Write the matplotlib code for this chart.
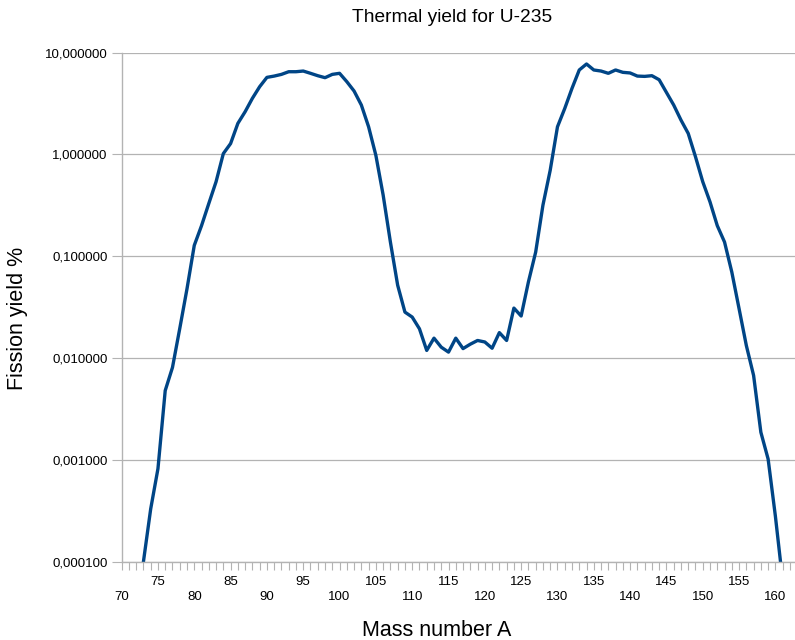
import numpy as np
import matplotlib
matplotlib.use('Agg')
import matplotlib.pyplot as plt
from matplotlib.ticker import FixedLocator, FuncFormatter

plt.rcParams['font.family'] = ['Liberation Sans', 'DejaVu Sans']

# mass number A and thermal fission yield (%)
mass = list(range(73, 162))
yield_pct = [
    1.0e-4, 3.3e-4, 8.2e-4, 4.8e-3, 8.1e-3, 0.0195, 0.048, 0.128, 0.20, 0.33,   # 73-82
    0.54, 1.02, 1.28, 2.02, 2.63, 3.56, 4.63, 5.72, 5.89, 6.12,                # 83-92
    6.50, 6.50, 6.60, 6.27, 5.94, 5.68, 6.12, 6.27, 5.19, 4.20,                # 93-102
    3.06, 1.87, 0.98, 0.40, 0.138, 0.052, 0.0283, 0.0253, 0.0194, 0.0119,      # 103-112
    0.0157, 0.0128, 0.01145, 0.0157, 0.0124, 0.0137, 0.0149, 0.0144, 0.0125, 0.0178,  # 113-122
    0.0149, 0.031, 0.0259, 0.056, 0.110, 0.318, 0.70, 1.87, 2.83, 4.46,        # 123-132
    6.76, 7.74, 6.76, 6.60, 6.27, 6.76, 6.41, 6.32, 5.89, 5.85,                # 133-142
    5.94, 5.42, 4.07, 3.06, 2.18, 1.61, 0.95, 0.54, 0.342, 0.20,               # 143-152
    0.138, 0.070, 0.0306, 0.0133, 0.00676, 0.00187, 0.00102, 2.8e-4, 6.5e-5,   # 153-161
]

y_ticks = [1e-4, 1e-3, 1e-2, 1e-1, 1, 10]

fig = plt.figure(figsize=(7.95, 6.4), dpi=100)
ax = fig.add_axes([0.153, 0.1223, 0.847, 0.7954])

ax.plot(mass, yield_pct, color='#004586', linewidth=2.4, solid_joinstyle='round')

ax.set_yscale('log')
ax.set_ylim(1e-4, 10)
ax.set_xlim(70, 162.7)

# y axis: decade gridlines, comma decimal labels
ax.yaxis.set_major_locator(FixedLocator(y_ticks))
ax.yaxis.set_minor_locator(FixedLocator([]))
ax.yaxis.set_major_formatter(FuncFormatter(lambda v, p: ('%.6f' % v).replace('.', ',')))
ax.grid(axis='y', color='#b3b3b3', linewidth=0.9)
ax.set_axisbelow(True)

# x axis: a tick on every integer, labels every 5 in two staggered rows
xt = list(range(70, 163))
def xlab(a):
    if a % 10 == 5:
        return str(a)
    if a % 10 == 0:
        return '\n' + str(a)
    return ''
ax.set_xticks(xt)
ax.set_xticklabels([xlab(a) for a in xt], linespacing=1.35)

ax.tick_params(axis='x', direction='out', length=6, width=0.8, color='#b3b3b3',
               labelsize=9.5, pad=4.5)
ax.tick_params(axis='y', direction='out', length=7, width=0.8, color='#b3b3b3',
               labelsize=9.5, pad=3)

for s in ['top', 'right']:
    ax.spines[s].set_visible(False)
for s in ['left', 'bottom']:
    ax.spines[s].set_color('#b3b3b3')
    ax.spines[s].set_linewidth(1.0)

fig.text(452 / 795, 1 - 18 / 640, 'Thermal yield for U-235', ha='center', va='center', fontsize=13.8)
fig.text(18 / 795, 1 - 318 / 640, 'Fission yield %', ha='center', va='center', rotation=90, fontsize=15.5)
fig.text(437 / 795, 1 - 630 / 640, 'Mass number A', ha='center', va='center', fontsize=15.5)

fig.savefig('out.png', dpi=100)
